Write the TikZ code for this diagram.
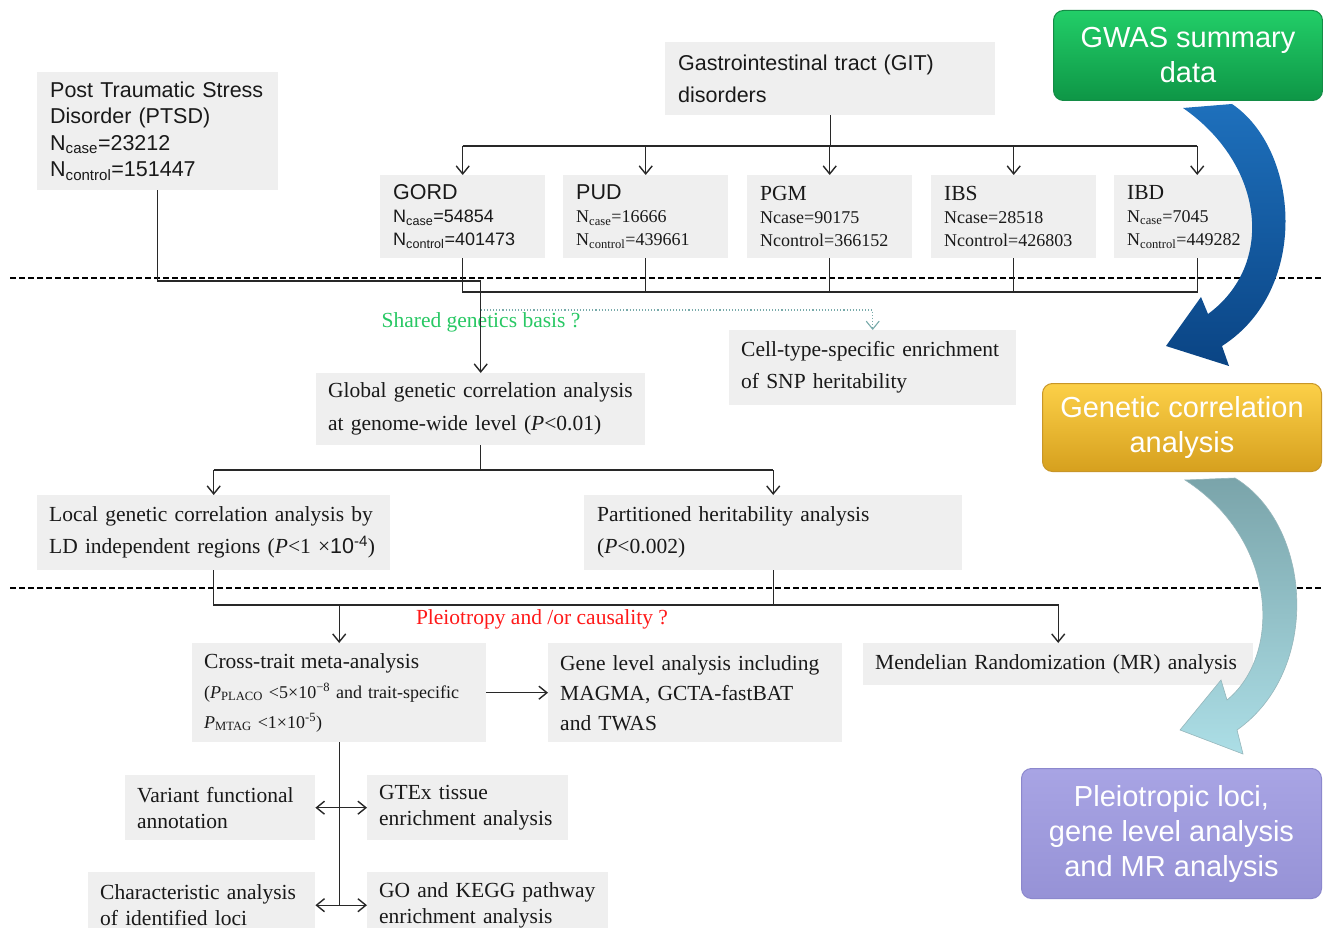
\documentclass[tikz,border=0pt]{standalone}
\usepackage{fontspec}
\setmainfont{Liberation Serif}
\newfontfamily\arial{Liberation Sans}
\usetikzlibrary{arrows.meta}
\definecolor{boxgray}{RGB}{239,239,239}
\definecolor{txt}{RGB}{25,25,25}
\definecolor{linec}{RGB}{40,40,40}
\definecolor{dotc}{RGB}{120,170,170}
\definecolor{sharedgreen}{RGB}{40,200,100}
\definecolor{pleired}{RGB}{255,25,25}
\definecolor{gwasTop}{RGB}{34,206,104}
\definecolor{gwasBot}{RGB}{14,150,70}
\definecolor{gwasLine}{RGB}{20,140,70}
\definecolor{gcTop}{RGB}{252,208,72}
\definecolor{gcBot}{RGB}{214,160,30}
\definecolor{gcLine}{RGB}{200,150,40}
\definecolor{plTop}{RGB}{168,164,228}
\definecolor{plBot}{RGB}{150,146,214}
\definecolor{plLine}{RGB}{140,136,205}
\definecolor{blueTop}{RGB}{30,112,188}
\definecolor{blueBot}{RGB}{10,68,132}
\definecolor{tealTop}{RGB}{122,164,170}
\definecolor{tealBot}{RGB}{172,222,230}
\tikzset{
  line/.style={draw=linec, line width=1.4pt},
  arr/.style={line, -{Straight Barb[length=8pt,width=13pt]}},
  darr/.style={line, {Straight Barb[length=8pt,width=13pt]}-{Straight Barb[length=8pt,width=13pt]}},
  dotarr/.style={draw=dotc, line width=1.1pt, dotted, -{Straight Barb[length=8pt,width=13pt]}},
  dashline/.style={draw=black, line width=1.3pt, dash pattern=on 6pt off 3pt},
  box/.style={fill=boxgray, anchor=north west, align=left, inner xsep=13pt, inner ysep=0pt, text=txt, font=\fontsize{21.5}{32}\selectfont},
  sbox/.style={box, font=\arial\fontsize{21.5}{26.5}\selectfont},
  nbox/.style={box, font=\fontsize{18}{23}\selectfont},
  rbox/.style={rounded corners=10pt, anchor=north west, align=center, text=white, inner sep=0pt, line width=1pt, font=\arial\fontsize{29}{35}\selectfont},
  note/.style={font=\fontsize{21.5}{26}\selectfont, inner sep=0pt}
}
\begin{document}
\begin{tikzpicture}[x=1pt,y=-1pt]
\useasboundingbox (0,0) rectangle (1323,928);
\fill[white] (0,0) rectangle (1323,928);

% dashed separators
\draw[dashline] (10,278) -- (1323,278);
\draw[dashline] (10,588) -- (1323,588);

% level 1
\node[sbox, text width=215pt, minimum height=118pt] (ptsd) at (37,72)
  {Post Traumatic Stress\\Disorder (PTSD)\\N\textsubscript{case}=23212\\N\textsubscript{control}=151447};
\node[sbox, text width=304pt, minimum height=73pt, font=\arial\fontsize{21.5}{32}\selectfont] (git) at (665,42)
  {Gastrointestinal tract (GIT)\\disorders};

\node[nbox, text width=139pt, minimum height=83pt, font=\arial\fontsize{18}{23}\selectfont] (gord) at (380,175)
  {{\fontsize{21.5}{23}\selectfont GORD}\\N\textsubscript{case}=54854\\N\textsubscript{control}=401473};
\node[nbox, text width=139pt, minimum height=83pt] (pud) at (563,175)
  {{\arial\fontsize{21.5}{23}\selectfont PUD}\\N\textsubscript{case}=16666\\N\textsubscript{control}=439661};
\node[nbox, text width=139pt, minimum height=83pt] (pgm) at (747,175)
  {{\fontsize{21.5}{23}\selectfont PGM}\\Ncase=90175\\Ncontrol=366152};
\node[nbox, text width=139pt, minimum height=83pt] (ibs) at (931,175)
  {{\fontsize{21.5}{23}\selectfont IBS}\\Ncase=28518\\Ncontrol=426803};
\node[nbox, text width=140pt, minimum height=83pt] (ibd) at (1114,175)
  {{\fontsize{21.5}{23}\selectfont IBD}\\N\textsubscript{case}=7045\\N\textsubscript{control}=449282};

% level 2
\node[box, text width=263pt, inner xsep=12pt, minimum height=75pt] (cell) at (729,330)
  {Cell-type-specific enrichment\\of SNP heritability};
\node[box, text width=305pt, inner xsep=12pt, minimum height=72pt, font=\fontsize{21.5}{33}\selectfont] (global) at (316,373)
  {Global genetic correlation analysis\\at genome-wide level (\textit{P}<0.01)};
\node[box, text width=329pt, inner xsep=12pt, minimum height=75pt] (local) at (37,495)
  {Local genetic correlation analysis by\\LD independent regions (\textit{P}<1 ×{\arial 10\textsuperscript{-4}})};
\node[box, text width=352pt, minimum height=75pt] (part) at (584,495)
  {Partitioned heritability analysis\\(\textit{P}<0.002)};

% level 3
\node[box, text width=270pt, inner xsep=12pt, minimum height=99pt, font=\fontsize{18}{30}\selectfont] (cross) at (192,643)
  {{\fontsize{21.5}{30}\selectfont Cross-trait meta-analysis}\\(\textit{P}\textsubscript{PLACO} <5×10\textsuperscript{−8} and trait-specific\\\textit{P}\textsubscript{MTAG} <1×10\textsuperscript{-5})};
\node[box, text width=270pt, inner xsep=12pt, minimum height=99pt, font=\fontsize{21.5}{30}\selectfont] (gene) at (548,643)
  {Gene level analysis including\\MAGMA, GCTA-fastBAT\\and TWAS};
\node[box, text width=366pt, inner xsep=12pt, minimum height=42pt] (mr) at (863,643)
  {Mendelian Randomization (MR) analysis};

\node[box, text width=166pt, inner xsep=12pt, minimum height=65pt, font=\fontsize{21.5}{26}\selectfont] (variant) at (125,775)
  {Variant functional\\annotation};
\node[box, text width=177pt, inner xsep=12pt, minimum height=65pt, font=\fontsize{21.5}{26}\selectfont] (gtex) at (367,775)
  {GTEx tissue\\enrichment analysis};
\node[box, text width=203pt, inner xsep=12pt, minimum height=66pt, font=\fontsize{21.5}{26}\selectfont] (chara) at (88,872)
  {Characteristic analysis\\of identified loci};
\node[box, text width=217pt, inner xsep=12pt, minimum height=66pt, font=\fontsize{21.5}{26}\selectfont] (go) at (367,872)
  {GO and KEGG pathway\\enrichment analysis};

% labels
\node[note, text=sharedgreen] (shared) at (481,322) {Shared genetics basis ?};
\node[note, text=pleired] (pleio) at (542,619) {Pleiotropy and /or causality ?};

% helper levels
\coordinate (yA) at (0,146);
\coordinate (yP) at (0,281);
\coordinate (yG) at (0,292);
\coordinate (yD) at (0,310);
\coordinate (yL) at (0,470);
\coordinate (yM) at (0,605);

% connectors
\draw[line] (git.south) -- (git.south |- yA);
\draw[line] (gord.north |- yA) -- (ibd.north |- yA);
\foreach \n in {gord,pud,pgm,ibs,ibd} \draw[arr] (\n.north |- yA) -- (\n.north);

\draw[line] (gord.south) |- (ibd.south |- yG) -- (ibd.south);
\foreach \n in {pud,pgm,ibs} \draw[line] (\n.south) -- (\n.south |- yG);
\draw[arr] (ptsd.south) |- (global.north |- yP) -- (global.north);
\coordinate (dotstart) at (global.north |- yD);
\draw[dotarr] (dotstart) -| (cell.north);

\draw[line] (global.south) -- (global.south |- yL);
\draw[line] (local.north |- yL) -- (part.north |- yL);
\draw[arr] (local.north |- yL) -- (local.north);
\draw[arr] (part.north |- yL) -- (part.north);

\draw[arr] (local.south) |- (mr.north |- yM) -- (mr.north);
\draw[line] (part.south) -- (part.south |- yM);
\draw[arr] (cross.north |- yM) -- (cross.north);
\draw[arr] (cross.east) -- (gene.west);
\draw[line] (cross.south) -- (cross.south |- chara.east);
\draw[darr] (variant.east) -- (gtex.west);
\draw[darr] (chara.east) -- (go.west);

% right column
\node[rbox, minimum width=269pt, minimum height=90pt, top color=gwasTop, bottom color=gwasBot, draw=gwasLine] (gwas) at (1053,10)
  {GWAS summary\\data};
\node[rbox, minimum width=279pt, minimum height=88pt, top color=gcTop, bottom color=gcBot, draw=gcLine] (gc) at (1042,383)
  {Genetic correlation\\analysis};
\node[rbox, minimum width=300pt, minimum height=130pt, top color=plTop, bottom color=plBot, draw=plLine] (pleo) at (1021,768)
  {Pleiotropic loci,\\gene level analysis\\and MR analysis};

% curved block arrows
\shade[top color=blueTop, bottom color=blueBot]
  (1183,108) -- (1232,104) .. controls (1300,150) and (1310,290) .. (1222,346)
  -- (1229,366) -- (1166,346) -- (1201,297) -- (1208,314)
  .. controls (1275,265) and (1265,165) .. (1183,108) -- cycle;
\shade[top color=tealTop, bottom color=tealBot, draw=tealTop!80!white, line width=0.6pt]
  (1185,480) -- (1235,478) .. controls (1312,525) and (1322,670) .. (1237,730)
  -- (1243,754) -- (1180,730) -- (1221,680) -- (1227,700)
  .. controls (1282,655) and (1278,540) .. (1185,480) -- cycle;
\end{tikzpicture}
\end{document}
